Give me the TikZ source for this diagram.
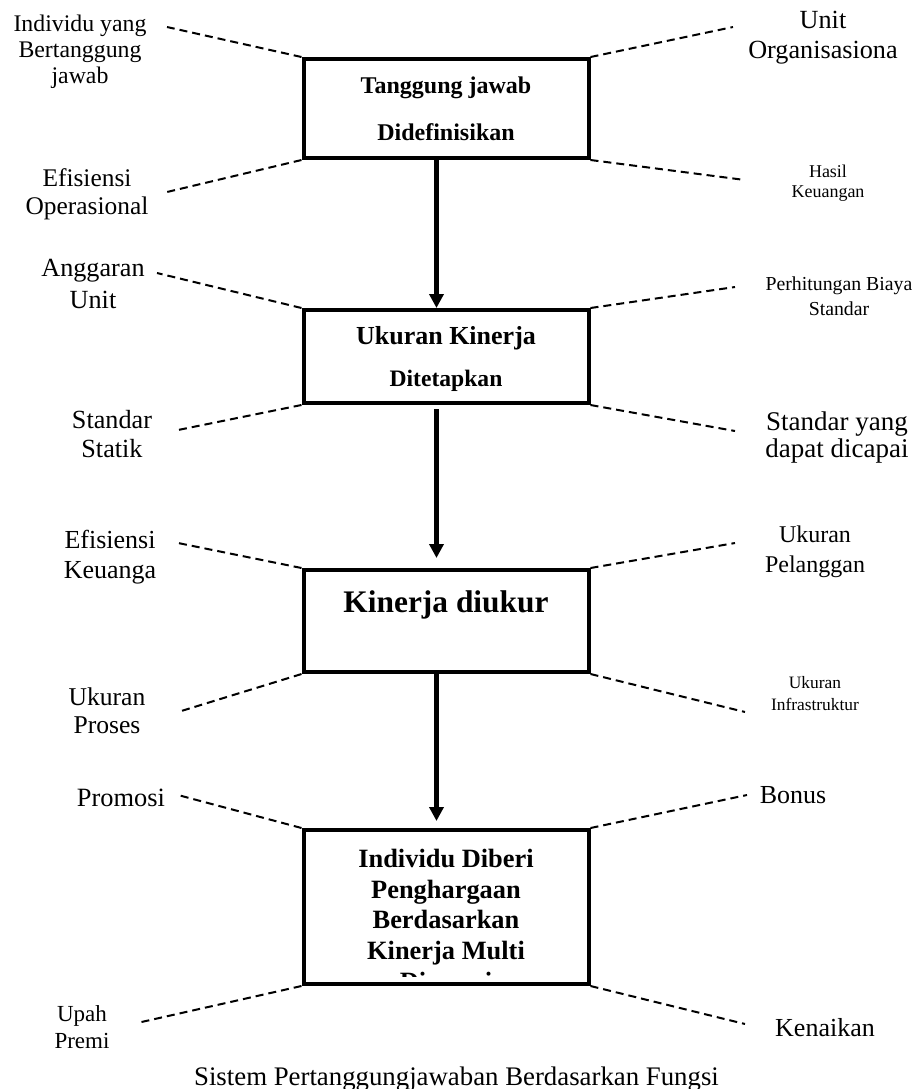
\documentclass[tikz,border=0pt]{standalone}
\usepackage{fontspec}
\setmainfont{Liberation Serif}
\usepackage{tikz}
\usetikzlibrary{arrows.meta}
\tikzstyle{box} = [rectangle, draw, line width=2pt, minimum width=142.5pt, inner sep=0pt, align=center]
\tikzstyle{lbl} = [align=center, inner sep=0pt]
\tikzstyle{arrow} = [line width=2.5pt,-{Triangle[length=7pt,width=7pt]}]
\tikzstyle{link} = [line width=1pt, dash pattern=on 4pt off 2.5pt]

\begin{document}
\begin{tikzpicture}[x=0.5pt, y=-0.5pt]
\useasboundingbox (0,0) rectangle (922,1089);

% boxes
\node (b1) [box, minimum height=49.5pt, font=\bfseries\fontsize{12}{23.5}\selectfont] at (446,108.5) {Tanggung jawab\\Didefinisikan};
\node (b2) [box, minimum height=46.5pt, font=\bfseries\fontsize{13}{21}\selectfont] at (446,356.5) {Ukuran Kinerja\\{\fontsize{11.8}{21}\selectfont\raisebox{0pt}[\height][0pt]{Ditetapkan}}};
\node (b3) [box, minimum height=51pt, font=\bfseries\fontsize{15.7}{18}\selectfont, text height=12pt, text depth=21pt] at (446,621) {Kinerja diukur};
\node (b4) [box, minimum height=77pt] at (446,907) {};
\begin{scope}
\clip ([shift={(2pt,-2pt)}]b4.north west) rectangle ([shift={(-2pt,5pt)}]b4.south east);
\node (t4) [lbl, anchor=north, font=\bfseries\fontsize{13.2}{15.3}\selectfont] at (446,849) {Individu Diberi\\Penghargaan\\Berdasarkan\\Kinerja Multi\\Dimensi};
\end{scope}

% labels left
\node (ind) [lbl, font=\fontsize{11.9}{13}\selectfont] at (80,52) {Individu yang\\Bertanggung\\jawab};
\node (efo) [lbl, font=\fontsize{12.7}{14}\selectfont] at (87,194) {Efisiensi\\Operasional};
\node (agu) [lbl, font=\fontsize{13.1}{16}\selectfont] at (93,284) {Anggaran\\Unit};
\node (sst) [lbl, font=\fontsize{13.1}{14.5}\selectfont] at (112,434) {Standar\\Statik};
\node (efk) [lbl, font=\fontsize{13}{15}\selectfont] at (110,557) {Efisiensi\\Keuanga};
\node (ukp) [lbl, font=\fontsize{12.8}{14}\selectfont] at (107,711) {Ukuran\\Proses};
\node (pro) [lbl, font=\fontsize{13.2}{15}\selectfont] at (121,798) {Promosi};
\node (upr) [lbl, font=\fontsize{11.5}{13.5}\selectfont] at (82,1027) {Upah\\Premi};

% labels right
\node (uor) [lbl, font=\fontsize{13.1}{15}\selectfont] at (823,38) {Unit\\Organisasiona};
\node (hku) [lbl, font=\fontsize{9}{10}\selectfont] at (828,183) {Hasil\\Keuangan};
\node (pbs) [lbl, font=\fontsize{9.9}{12.5}\selectfont] at (839,296) {Perhitungan Biaya\\Standar};
\node (syd) [lbl, font=\fontsize{13.5}{13.5}\selectfont] at (837,437) {Standar yang\\dapat dicapai};
\node (upl) [lbl, font=\fontsize{12}{15}\selectfont] at (815,552) {Ukuran\\Pelanggan};
\node (uin) [lbl, font=\fontsize{8.7}{11}\selectfont] at (815,694) {Ukuran\\Infrastruktur};
\node (bon) [lbl, font=\fontsize{13}{15}\selectfont] at (793,795) {Bonus};
\node (ken) [lbl, font=\fontsize{13}{15}\selectfont] at (825,1028) {Kenaikan};

\node (cap) [lbl, anchor=base, font=\fontsize{13.4}{15}\selectfont] at (456.5,1085) {Sistem Pertanggungjawaban Berdasarkan Fungsi};

% ends of the dashed lines
\coordinate (ind-e) at (167,27);
\coordinate (efo-e) at (167,192);
\coordinate (uor-e) at (733,27);
\coordinate (hku-e) at (745,180);
\coordinate (agu-e) at (157,273);
\coordinate (sst-e) at (178,430);
\coordinate (pbs-e) at (735,287);
\coordinate (syd-e) at (735,431);
\coordinate (efk-e) at (178,543);
\coordinate (ukp-e) at (178,712);
\coordinate (upl-e) at (735,543);
\coordinate (uin-e) at (745,712);
\coordinate (pro-e) at (178,795);
\coordinate (upr-e) at (137,1023);
\coordinate (bon-e) at (747,795);
\coordinate (ken-e) at (745,1024);

\draw [link] (b1.north west) -- (ind-e);
\draw [link] (b1.south west) -- (efo-e);
\draw [link] (b1.north east) -- (uor-e);
\draw [link] (b1.south east) -- (hku-e);
\draw [link] (b2.north west) -- (agu-e);
\draw [link] (b2.south west) -- (sst-e);
\draw [link] (b2.north east) -- (pbs-e);
\draw [link] (b2.south east) -- (syd-e);
\draw [link] (b3.north west) -- (efk-e);
\draw [link] (b3.south west) -- (ukp-e);
\draw [link] (b3.north east) -- (upl-e);
\draw [link] (b3.south east) -- (uin-e);
\draw [link] (b4.north west) -- (pro-e);
\draw [link] (b4.south west) -- (upr-e);
\draw [link] (b4.north east) -- (bon-e);
\draw [link] (b4.south east) -- (ken-e);

\draw [arrow] ([xshift=-4.75pt]b1.south) -- ([xshift=-4.75pt]b2.north);
\draw [arrow, shorten <=2pt, shorten >=5pt] ([xshift=-4.75pt]b2.south) -- ([xshift=-4.75pt]b3.north);
\draw [arrow, shorten >=3.5pt] ([xshift=-4.75pt]b3.south) -- ([xshift=-4.75pt]b4.north);
\end{tikzpicture}
\end{document}
